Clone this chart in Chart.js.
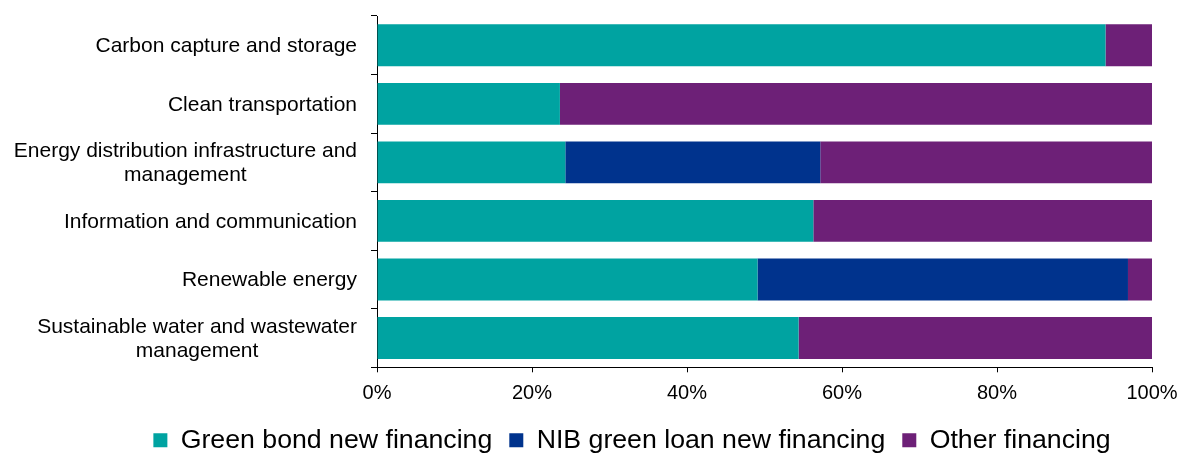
<!DOCTYPE html>
<html>
<head>
<meta charset="utf-8">
<script src="https://cdn.jsdelivr.net/npm/chart.js@4.4.1/dist/chart.umd.min.js"></script>
<style>
  html, body { margin: 0; padding: 0; background: #fff; }
  #wrap { width: 1180px; height: 455px; position: relative; }
</style>
</head>
<body>
<div id="wrap"><canvas id="c"></canvas></div>
<script>
const categories = [
  ["Carbon capture and storage"],
  ["Clean transportation"],
  ["Energy distribution infrastructure and", "management"],
  ["Information and communication"],
  ["Renewable energy"],
  ["Sustainable water and wastewater", "management"]
];
const greenBond = [94.0, 23.6, 24.3, 56.3, 49.1, 54.4];
const nibLoan   = [0,    0,    32.9, 0,    47.8, 0];
const other     = [6.0,  76.4, 42.8, 43.7, 3.1,  45.6];
const seriesNames = ["Green bond new financing", "NIB green loan new financing", "Other financing"];
const xTicks = [0, 20, 40, 60, 80, 100];

const FONT = "'Liberation Sans', Arial, sans-serif";
const LEFT_PAD = 112;

const yLabelPlugin = {
  id: 'yLabels',
  afterDraw(chart) {
    const s = chart.scales.y;
    const ctx = chart.ctx;
    ctx.save();
    ctx.font = "21px " + FONT;
    ctx.fillStyle = "#000";
    ctx.textAlign = "center";
    ctx.textBaseline = "middle";
    const rightX = s.right - 20;
    const lh = 24;
    categories.forEach((lines, i) => {
      const y = s.getPixelForTick(i) + 1;
      const w = Math.max(...lines.map(l => ctx.measureText(l).width));
      const cx = rightX - w / 2;
      const y0 = y - (lines.length - 1) * lh / 2;
      lines.forEach((l, k) => ctx.fillText(l, cx, y0 + k * lh));
    });
    ctx.restore();
  }
};

const ds = (label, data, color) => ({
  label, data, backgroundColor: color, borderWidth: 0,
  barPercentage: 0.715, categoryPercentage: 1.0
});

new Chart(document.getElementById('c'), {
  type: 'bar',
  data: {
    labels: categories,
    datasets: [
      ds(seriesNames[0], greenBond, '#00A3A1'),
      ds(seriesNames[1], nibLoan, '#00338D'),
      ds(seriesNames[2], other, '#6D2077')
    ]
  },
  options: {
    indexAxis: 'y',
    responsive: true,
    maintainAspectRatio: false,
    animation: false,
    layout: { padding: { top: 16, right: 28, left: LEFT_PAD, bottom: -8.5 } },
    plugins: {
      tooltip: { enabled: false },
      legend: {
        position: 'bottom',
        labels: {
          font: { family: FONT, size: 26.7 },
          color: '#000',
          boxWidth: 14,
          boxHeight: 14,
          padding: 17
        }
      }
    },
    scales: {
      x: {
        stacked: true,
        min: 0, max: 100,
        afterBuildTicks(scale) { scale.ticks = xTicks.map(v => ({ value: v })); },
        afterFit(scale) { scale.height = 42.5; scale.paddingLeft = 0; scale.paddingRight = 0; },
        border: { display: true, color: '#000', width: 1 },
        grid: { drawOnChartArea: false, drawTicks: true, tickLength: 5, color: '#000' },
        ticks: {
          font: { family: FONT, size: 20 },
          color: '#000',
          padding: 9,
          maxRotation: 0,
          callback: v => v + '%'
        }
      },
      y: {
        stacked: true,
        afterFit(scale) { scale.width = 377 - LEFT_PAD; },
        border: { display: true, color: '#000', width: 1 },
        grid: { drawOnChartArea: false, drawTicks: true, tickLength: 6, color: '#000', offset: true },
        ticks: { display: false }
      }
    }
  },
  plugins: [yLabelPlugin]
});
</script>
</body>
</html>
